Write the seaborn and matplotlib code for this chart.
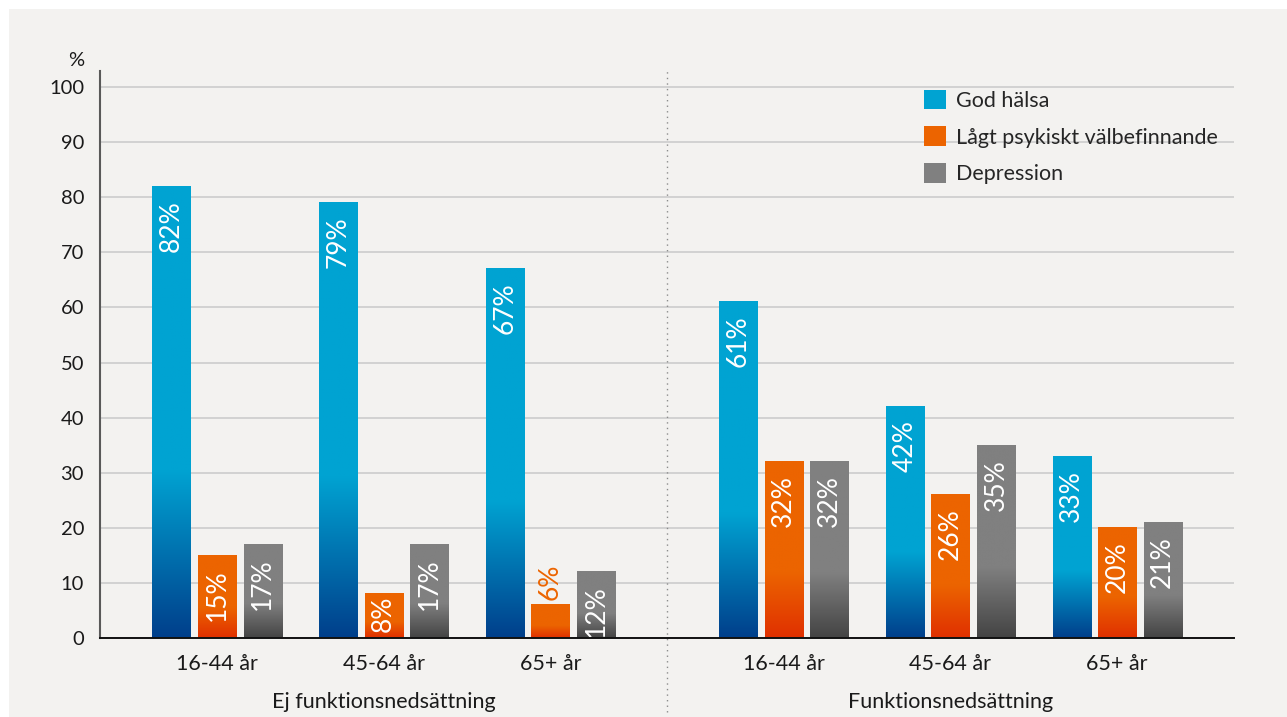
import numpy as np
import pandas as pd
import matplotlib
matplotlib.use('Agg')
import matplotlib.pyplot as plt
import matplotlib.transforms as mtransforms
from matplotlib.patches import Patch, Rectangle
import seaborn as sns

sns.set_style('whitegrid')
plt.rcParams['font.family'] = ['Lato', 'DejaVu Sans']

# ── data ────────────────────────────────────────────────────────────
age_labels = ['16-44 år', '45-64 år', '65+ år', '16-44 år', '45-64 år', '65+ år']
x_pos = [0, 1, 2, 3.4, 4.4, 5.4]
groups = ['Ej funktionsnedsättning', 'Funktionsnedsättning']
group_centers = [1, 4.4]
series = ['God hälsa', 'Lågt psykiskt välbefinnande', 'Depression']
god_halsa = [82, 79, 67, 61, 42, 33]
lagt_psyk = [15, 8, 6, 32, 26, 20]
depression = [17, 17, 12, 32, 35, 21]

top_cols = ['#00a3d2', '#ec6400', '#808080']
bot_cols = ['#003f8b', '#e03000', '#444444']
BG = '#f3f2f0'
TXT = '#1a1a1a'

df = pd.DataFrame({
    'x': x_pos * 3,
    'serie': [s for s in series for _ in x_pos],
    'val': god_halsa + lagt_psyk + depression,
})

fig = plt.figure(figsize=(12.87, 7.17), dpi=100, facecolor='white')
fig.patches.append(Rectangle((9 / 1287, 0), 1, 1 - 9 / 717, transform=fig.transFigure,
                             facecolor=BG, edgecolor='none', zorder=-10))
ax = fig.add_axes([100 / 1287, 79 / 717, 1134 / 1287, 567.5 / 717])
ax.set_facecolor(BG)

sns.barplot(data=df, x='x', y='val', hue='serie', hue_order=series,
            palette=top_cols, native_scale=True, width=0.82, gap=0.165,
            legend=False, ax=ax, zorder=2)

# gradient fill in the lower part of each bar
N = 200
t = np.linspace(0, 1, N)
for cont, tc, bc in zip(ax.containers, top_cols, bot_cols):
    c_top = np.array(matplotlib.colors.to_rgb(tc))
    c_bot = np.array(matplotlib.colors.to_rgb(bc))
    f = np.clip(t / 0.37, 0, 1)[:, None]
    img = (c_bot + (c_top - c_bot) * f)[:, None, :]
    for bar in cont:
        x0, w, h = bar.get_x(), bar.get_width(), bar.get_height()
        ax.imshow(img, extent=[x0, x0 + w, 0, h], origin='lower', aspect='auto',
                  interpolation='bilinear', zorder=2.5)
        bar.set_visible(False)

# value labels
for cont, vals, tc in zip(ax.containers, [god_halsa, lagt_psyk, depression], top_cols):
    for bar, v in zip(cont, vals):
        xc = bar.get_x() + bar.get_width() / 2
        if v < 7:
            ax.text(xc, v + 0.9, f'{v}%', rotation=90, ha='center', va='bottom',
                    color=tc, fontsize=19, zorder=4)
        elif v < 10:
            ax.text(xc, 1.0, f'{v}%', rotation=90, ha='center', va='bottom',
                    color='white', fontsize=19, zorder=4)
        else:
            ax.text(xc, v - 2.5, f'{v}%', rotation=90, ha='center', va='top',
                    color='white', fontsize=19, zorder=4)

ax.set_xlim(-0.702, 6.101)
ax.set_ylim(0, 103)
ax.set_yticks(range(0, 101, 10))
ax.set_xticks(x_pos)
ax.set_xticklabels(age_labels)
ax.tick_params(axis='both', length=0, colors=TXT)
ax.tick_params(axis='y', pad=11.5, labelsize=14.5)
ax.tick_params(axis='x', pad=11.5, labelsize=15.5)
ax.set_xlabel('')
ax.set_ylabel('')
ax.grid(axis='x', visible=False)
ax.grid(axis='y', color='#c9c9c9', lw=1.1)
for s in ['top', 'right']:
    ax.spines[s].set_visible(False)
ax.spines['left'].set_color('#595959')
ax.spines['left'].set_linewidth(1.5)
ax.spines['bottom'].set_color('#111111')
ax.spines['bottom'].set_linewidth(1.4)
ax.spines['left'].set_zorder(5)
ax.spines['bottom'].set_zorder(5)

# separator between groups
trans = mtransforms.blended_transform_factory(ax.transData, ax.transAxes)
ax.plot([2.70, 2.70], [-0.130, 1.004], transform=trans, clip_on=False,
        ls=(0, (1, 3)), color='#8c8c8c', lw=1)

# group labels
for g, gc in zip(groups, group_centers):
    ax.text(gc, -0.113, g, transform=trans, ha='center', va='center',
            fontsize=15.5, color=TXT)

fig.text(84 / 1287, 1 - 61 / 717, '%', ha='right', va='center', fontsize=14.5, color=TXT)

handles = [Patch(facecolor=c, edgecolor='none') for c in top_cols]
ax.legend(handles, series, loc='upper left', bbox_to_anchor=(0.7266, 0.966),
          frameon=False, fontsize=15.5, handlelength=1.02, handleheight=1.02,
          handletextpad=0.45, labelspacing=0.72, borderpad=0, borderaxespad=0)

fig.savefig('out.png', dpi=100, facecolor=fig.get_facecolor())
